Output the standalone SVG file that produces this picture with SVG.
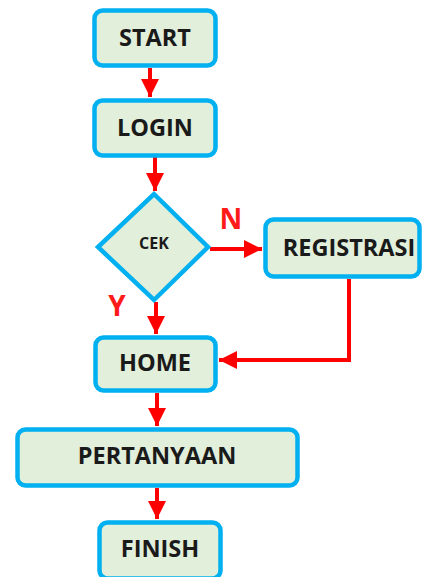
<svg xmlns="http://www.w3.org/2000/svg" width="423" height="577" viewBox="0 0 423 577">
<style>
.box{fill:#e2efda;stroke:#00b0f0;stroke-width:4.5}
.lbl{font-family:"Open Sans","Liberation Sans",sans-serif;font-weight:bold;fill:#1a1a1a;text-anchor:middle;dominant-baseline:central;font-size:23.5px}
.yn{font-family:"Open Sans","Liberation Sans",sans-serif;font-weight:bold;fill:#ff1a1a;font-size:28px;text-anchor:middle;dominant-baseline:central}
.conn{fill:none;stroke:#ff0000;stroke-width:4;marker-end:url(#ah)}
</style>
<defs>
<marker id="ah" markerWidth="4.5" markerHeight="4.5" refX="4.5" refY="2.25" orient="auto" markerUnits="strokeWidth">
<path d="M0,0 L4.5,2.25 L0,4.5 Z" fill="#ff0000"/>
</marker>
</defs>
<g id="connectors">
<path class="conn" d="M150,68 V97"/>
<path class="conn" d="M155,157 V191"/>
<path class="conn" d="M210,249 H262"/>
<path class="conn" d="M156,302 V334"/>
<path class="conn" d="M349,279 V360 H219"/>
<path class="conn" d="M157,393 V426"/>
<path class="conn" d="M157,488 V519"/>
</g>
<g id="start"><rect class="box" x="94.5" y="10.5" width="121" height="55" rx="8"/><text class="lbl" x="155" y="36.5">START</text></g>
<g id="login"><rect class="box" x="94.5" y="100.5" width="121" height="55" rx="8"/><text class="lbl" x="155" y="126.5">LOGIN</text></g>
<g id="cek"><polygon class="box" points="154,194 208,247 154,300 98,247"/><text class="lbl" x="154" y="243" style="font-size:16px">CEK</text></g>
<g id="registrasi"><rect class="box" x="265.5" y="219.5" width="154" height="57" rx="8"/><text class="lbl" x="349" y="247">REGISTRASI</text></g>
<g id="home"><rect class="box" x="95.5" y="337.5" width="120" height="53" rx="8"/><text class="lbl" x="155" y="362">HOME</text></g>
<g id="pertanyaan"><rect class="box" x="17.5" y="429.5" width="280" height="56" rx="8"/><text class="lbl" x="157" y="455">PERTANYAAN</text></g>
<g id="finish"><rect class="box" x="99.5" y="522.5" width="121" height="56" rx="8"/><text class="lbl" x="160" y="548">FINISH</text></g>
<text class="yn" x="231" y="218">N</text>
<text class="yn" x="117" y="305">Y</text>
</svg>
